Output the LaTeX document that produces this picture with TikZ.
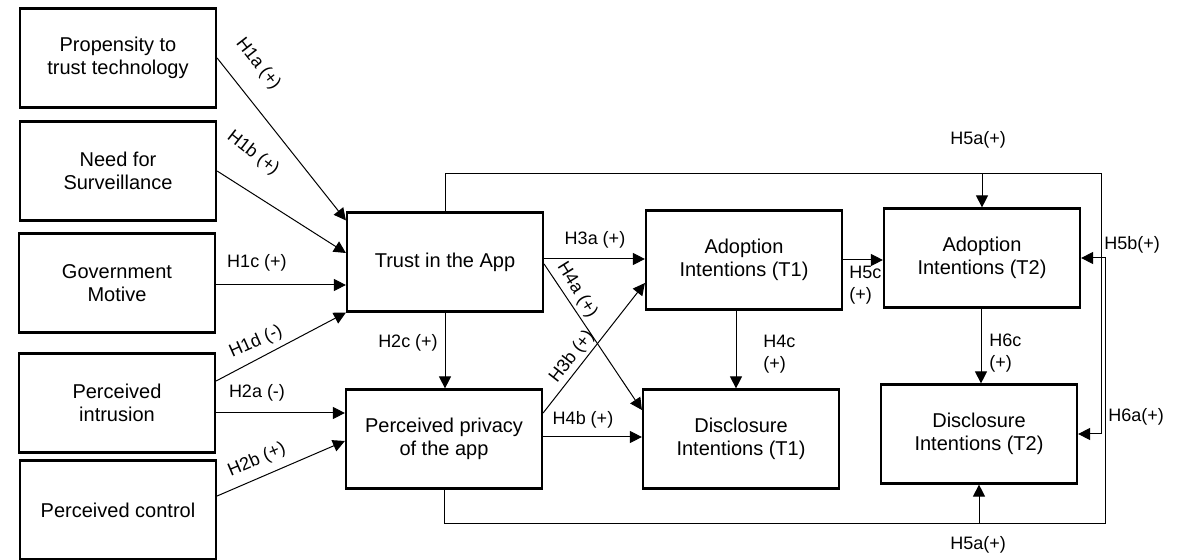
\documentclass[tikz,border=0pt]{standalone}
\usepackage{fontspec}
\setmainfont{Liberation Sans}
\usetikzlibrary{arrows.meta}
\usetikzlibrary{calc}
\tikzset{box/.style={draw,line width=1.1pt,minimum width=98pt,minimum height=49.5pt,
                     align=center,inner sep=0pt,font=\fontsize{10}{11.5}\selectfont},
         arr/.style={-{Triangle[length=6pt,width=6pt]},line width=0.5pt},
         hyp/.style={inner sep=0pt,font=\fontsize{9}{11}\selectfont}}

\begin{document}
\begin{tikzpicture}[x=0.5pt,y=-0.5pt]
\useasboundingbox (0,0) rectangle (1182,560);
\node[box] (prop) at (118,58) {Propensity to\\trust technology};
\node[box] (need) at (118,171) {Need for\\Surveillance};
\node[box] (gov) at (117,283) {Government\\Motive};
\node[box] (intr) at (117,403) {Perceived\\intrusion};
\node[box] (ctrl) at (118,510) {Perceived control};
\node[box] (trust) at (445,262) {Trust in the App};
\node[box] (priv) at (444,439) {Perceived privacy\\of the app};
\node[box] (adopt1) at (744,260) {Adoption\\Intentions (T1)};
\node[box] (disc1) at (741,439) {Disclosure\\Intentions (T1)};
\node[box] (adopt2) at (982,258) {Adoption\\Intentions (T2)};
\node[box] (disc2) at (979,434) {Disclosure\\Intentions (T2)};
\coordinate (topright) at (1101,174);
\coordinate (botright) at (1105,523);

\draw[arr] (prop.east) -- ($(trust.north west)+(0,9)$);
\draw[arr] (need.east) -- ($(trust.west)+(0,-9)$);
\draw[arr] ($(gov.east)+(0,2)$) -- ($(trust.west)+(0,23)$);
\draw[arr] ($(intr.east)+(0,-22)$) -- (trust.south west);
\draw[arr] ($(intr.east)+(0,10)$) -- ($(priv.west)+(0,-26)$);
\draw[arr] ($(ctrl.east)+(0,-14)$) -- ($(priv.west)+(0,2)$);
\draw[arr] (trust.south) -- (trust.south |- priv.north);
\draw[arr] ($(trust.east)+(0,-3)$) -- ($(adopt1.west)+(0,-1)$);
\draw[arr] ($(trust.east)+(0,2)$) -- ($(disc1.west)+(0,-29)$);
\draw[arr] ($(priv.east)+(0,-26)$) -- ($(adopt1.west)+(0,23)$);
\draw[arr] ($(priv.east)+(0,-2)$) -- ($(disc1.west)+(0,-2)$);
\draw[arr] ($(adopt1.south)+(-8,0)$) -- ($(disc1.north)+(-5,0)$);
\draw[arr] (adopt1.east) -- ($(adopt2.west)+(0,2)$);
\draw[arr] ($(adopt2.south)+(-1,0)$) -- ($(disc2.north)+(2,0)$);
\draw[arr] (trust.north) |- (topright) |- (disc2.east);
\draw[arr] (adopt2.north |- topright) -- (adopt2.north);
\draw[arr] (priv.south) |- (botright) |- (adopt2.east);
\draw[arr] (disc2.south |- botright) -- (disc2.south);

\node[hyp,rotate=-52] (l1a) at (258,64) {H1a (+)};
\node[hyp,rotate=-38] (l1b) at (253,153) {H1b (+)};
\node[hyp] (l1c) at (257,263) {H1c (+)};
\node[hyp,rotate=24] (l1d) at (256,342) {H1d (-)};
\node[hyp] (l2a) at (257,393) {H2a (-)};
\node[hyp,rotate=23] (l2b) at (257,460) {H2b (+)};
\node[hyp] (l2c) at (408,343) {H2c (+)};
\node[hyp] (l3a) at (595,240) {H3a (+)};
\node[hyp,rotate=-58] (l4a) at (577,290) {H4a (+)};
\node[hyp,rotate=52] (l3b) at (572,357) {H3b (+)};
\node[hyp] (l4b) at (583,420) {H4b (+)};
\node[hyp,anchor=west,align=left] (l4c) at (763,354) {H4c\\(+)};
\node[hyp,anchor=west,align=left] (l5c) at (849,285) {H5c\\(+)};
\node[hyp,anchor=west,align=left] (l6c) at (989,353) {H6c\\(+)};
\node[hyp] (l5a) at (978,140) {H5a(+)};
\node[hyp] (l5b) at (1132,245) {H5b(+)};
\node[hyp] (l6a) at (1136,417) {H6a(+)};
\node[hyp] (l5abot) at (978,545) {H5a(+)};
\end{tikzpicture}
\end{document}
